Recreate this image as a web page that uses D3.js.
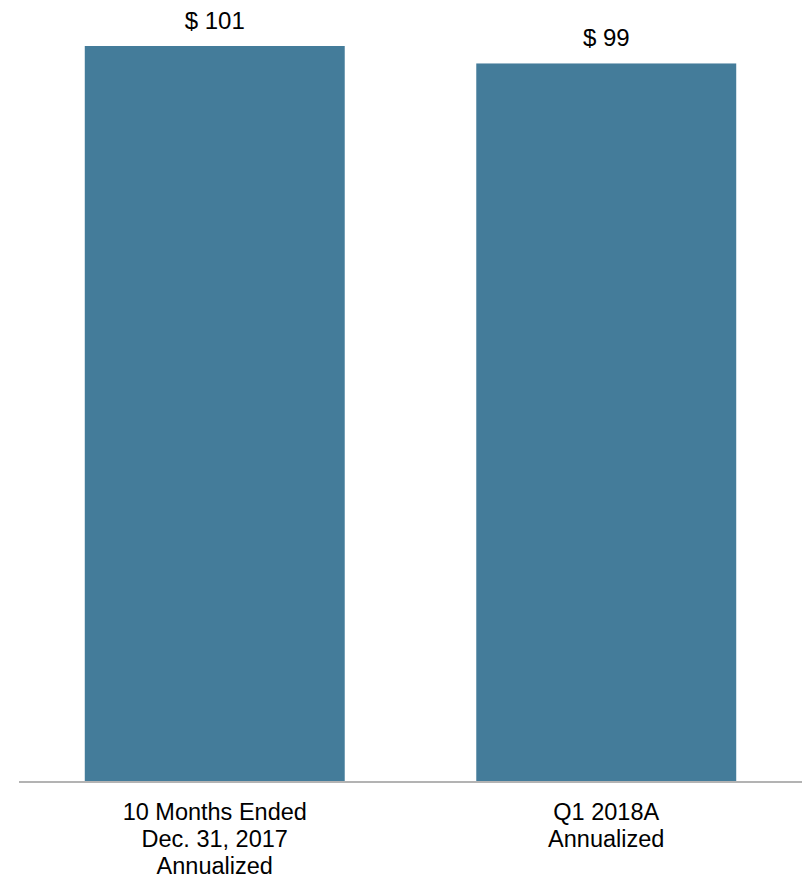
<!DOCTYPE html>
<html>
<head>
<meta charset="utf-8">
<script src="https://cdn.jsdelivr.net/npm/d3@7"></script>
<style>
  body { margin: 0; background: #fff; }
  .chart text { font-family: "Liberation Sans", Arial, sans-serif; fill: #000; }
</style>
</head>
<body>
<div class="chart"></div>
<script>
let categories = [
  ["10 Months Ended", "Dec. 31, 2017", "Annualized"],
  ["Q1 2018A", "Annualized"]
];
let values = [101.0, 98.6];

let width = 802, height = 876;
let baseline = 781;

let svg = d3.select(".chart")
  .append("svg")
  .attr("width", width)
  .attr("height", height);

let x = d3.scaleBand()
  .domain(d3.range(values.length))
  .range([19, 802])
  .paddingInner(0.336)
  .paddingOuter(0.168);

let y = d3.scaleLinear()
  .domain([0, 101])
  .range([baseline, 46]);

svg.selectAll(".bar")
  .data(values)
  .enter()
  .append("rect")
  .attr("class", "bar")
  .attr("x", (d, i) => x(i))
  .attr("y", d => y(d))
  .attr("width", x.bandwidth())
  .attr("height", d => baseline - y(d))
  .attr("fill", "#447c9a");

// axis line
svg.append("line")
  .attr("x1", 19)
  .attr("x2", 802)
  .attr("y1", baseline + 1)
  .attr("y2", baseline + 1)
  .attr("stroke", "#9a9a9a")
  .attr("stroke-width", 1.3);

svg.selectAll(".value")
  .data(values)
  .enter()
  .append("text")
  .attr("class", "value")
  .attr("x", (d, i) => x(i) + x.bandwidth() / 2)
  .attr("y", d => y(d) - 17)
  .attr("text-anchor", "middle")
  .style("font-size", "24px")
  .text(d => "$ " + Math.round(d));

let cats = svg.selectAll(".cat")
  .data(categories)
  .enter()
  .append("text")
  .attr("class", "cat")
  .attr("text-anchor", "middle")
  .style("font-size", "23.5px");

cats.selectAll("tspan")
  .data((d, i) => d.map(t => ({ t: t, i: i })))
  .enter()
  .append("tspan")
  .attr("x", d => x(d.i) + x.bandwidth() / 2)
  .attr("y", (d, j) => 820 + j * 27)
  .text(d => d.t);
</script>
</body>
</html>
